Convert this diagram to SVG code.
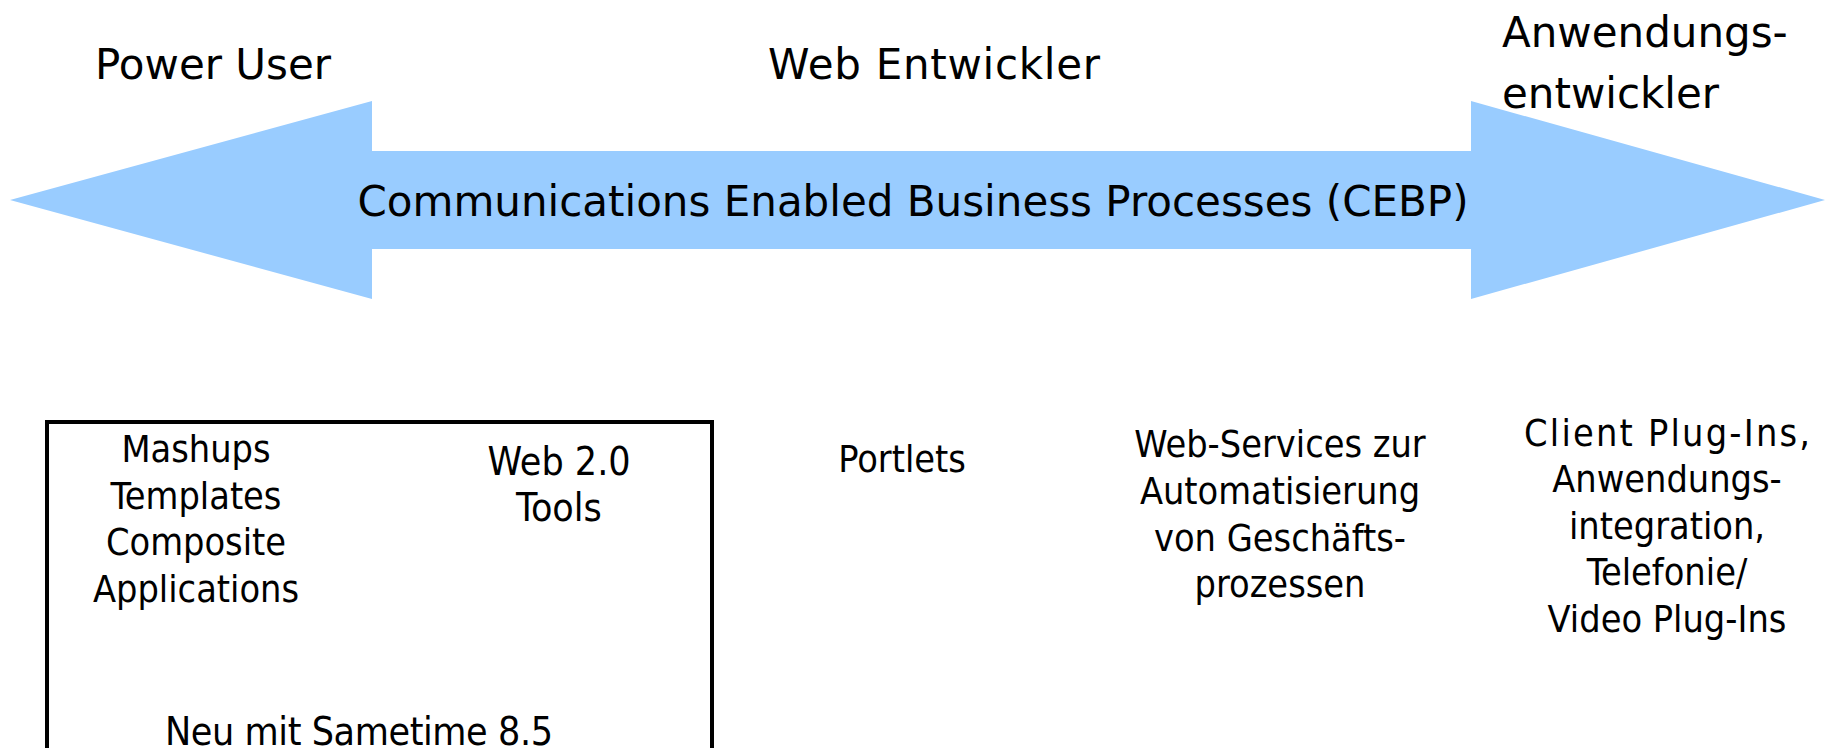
<svg xmlns="http://www.w3.org/2000/svg" width="1825" height="748" viewBox="0 0 1825 748">
<style>
.h{font-family:"DejaVu Sans",sans-serif;font-size:42px;fill:#000}
.c{font-family:"DejaVu Sans Condensed","DejaVu Sans",sans-serif;font-size:37.5px;fill:#000;text-anchor:middle}
</style>
<rect width="1825" height="748" fill="#fff"/>
<g id="arrow">
<polygon points="10,200 372,101 372,151 1471,151 1471,101 1825,200 1471,299 1471,249 372,249 372,299" fill="#99ccff"/>
<text class="h" x="913" y="216" text-anchor="middle">Communications Enabled Business Processes (CEBP)</text>
</g>
<g id="power-user"><text class="h" x="95" y="79">Power User</text></g>
<g id="web-entwickler"><text class="h" x="768" y="79" textLength="332">Web Entwickler</text></g>
<g id="anwendungsentwickler"><text class="h" x="1502" y="47">Anwendungs-</text><text class="h" x="1502" y="108">entwickler</text></g>
<g id="sametime-box">
<rect x="47" y="422" width="665" height="360" fill="none" stroke="#000" stroke-width="4"/>
<text class="c" x="196" y="462">Mashups</text>
<text class="c" x="196" y="509">Templates</text>
<text class="c" x="196" y="555">Composite</text>
<text class="c" x="196" y="602">Applications</text>
<text class="c" x="559" y="475" style="font-size:39px">Web 2.0</text>
<text class="c" x="559" y="521" style="font-size:39px">Tools</text>
<text class="c" x="359" y="745" style="font-size:39px" textLength="388">Neu mit Sametime 8.5</text>
</g>
<g id="portlets"><text class="c" x="902" y="472">Portlets</text></g>
<g id="web-services">
<text class="c" x="1280" y="457">Web-Services zur</text>
<text class="c" x="1280" y="504">Automatisierung</text>
<text class="c" x="1280" y="551">von Geschäfts-</text>
<text class="c" x="1280" y="597">prozessen</text>
</g>
<g id="client-plugins">
<text class="c" x="1667" y="446" textLength="286">Client Plug-Ins,</text>
<text class="c" x="1667" y="492">Anwendungs-</text>
<text class="c" x="1667" y="539">integration,</text>
<text class="c" x="1667" y="585">Telefonie/</text>
<text class="c" x="1667" y="632">Video Plug-Ins</text>
</g>
<g id="connectors"/>
</svg>
